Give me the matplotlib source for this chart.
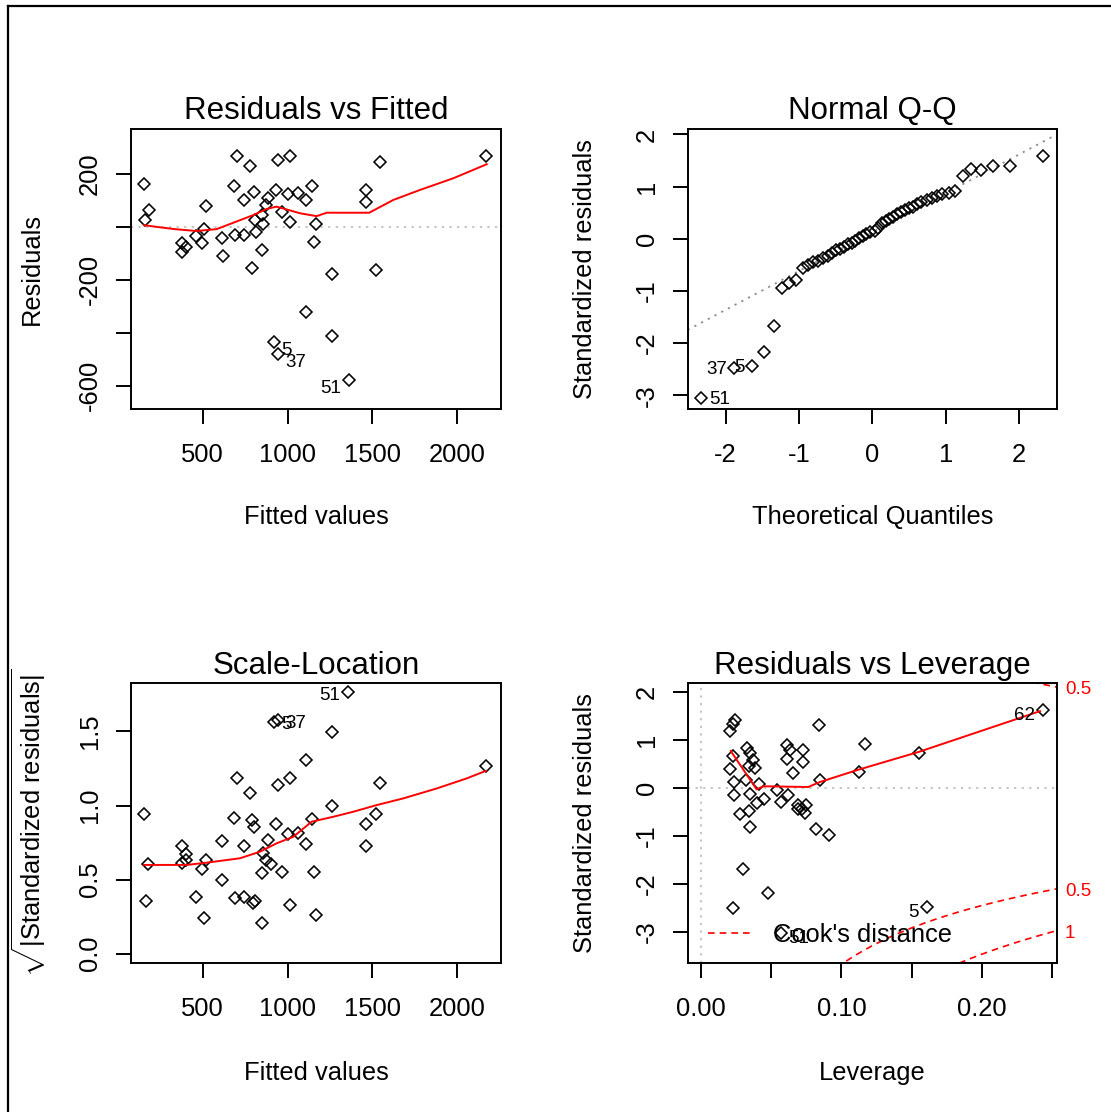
import matplotlib
matplotlib.use('Agg')
import matplotlib.pyplot as plt
import numpy as np
from matplotlib.lines import Line2D

plt.rcParams['font.family'] = ['Liberation Sans', 'DejaVu Sans']
plt.rcParams['mathtext.fontset'] = 'custom'
plt.rcParams['mathtext.rm'] = 'Liberation Sans'
plt.rcParams['mathtext.it'] = 'Liberation Sans:italic'
plt.rcParams['mathtext.bf'] = 'Liberation Sans:bold'
plt.rcParams['axes.unicode_minus'] = False

# ---------------- data ----------------
# Panel 1: Residuals vs Fitted
p1_fitted = [154, 182, 162, 704, 779, 943, 1016, 1546, 2168, 684, 800, 741, 932, 1004,
             1063, 1145, 1110, 886, 873, 1463, 1461, 519, 967, 806, 849, 1012, 1169, 508,
             462, 498, 378, 402, 376, 615, 692, 745, 814, 853, 1157, 618, 851, 792, 1261,
             1521, 1108, 1260, 918, 943, 1360]
p1_resid = [161, 63, 25, 267, 229, 252, 267, 245, 267, 154, 131, 101, 139, 124,
            126, 154, 101, 108, 82, 139, 93, 78, 56, 25, 43, 18, 9, -8,
            -33, -60, -63, -76, -97, -44, -30, -30, -20, 9, -59, -111, -88, -155, -179,
            -164, -322, -413, -436, -482, -579]
p1_smooth_x = [154, 248, 336, 464, 582, 680, 798, 876, 935, 985, 1073, 1171, 1230, 1481,
               1622, 1780, 1976, 2173]
p1_smooth_y = [6, -2, -9, -16, -9, 15, 44, 67, 76, 67, 51, 40, 53, 53, 101, 139, 183, 236]
p1_ids = {'5': (918, -436), '37': (943, -482), '51': (1360, -579)}

# Panel 2: Normal Q-Q
qq_theoretical = [-2.33, -1.88, -1.64, -1.48, -1.34, -1.23, -1.13, -1.04, -0.95, -0.88,
                  -0.81, -0.74, -0.67, -0.61, -0.55, -0.50, -0.44, -0.39, -0.33, -0.28,
                  -0.23, -0.18, -0.13, -0.08, -0.03, 0.03, 0.08, 0.13, 0.18, 0.23,
                  0.28, 0.33, 0.39, 0.44, 0.50, 0.55, 0.61, 0.67, 0.74, 0.81,
                  0.88, 0.95, 1.04, 1.13, 1.23, 1.34, 1.48, 1.64, 1.88, 2.33]
qq_sample = [-3.06, -2.48, -2.45, -2.18, -1.67, -0.95, -0.85, -0.79, -0.57, -0.50,
             -0.45, -0.42, -0.36, -0.33, -0.27, -0.22, -0.19, -0.15, -0.11, -0.08,
             -0.04, 0.02, 0.06, 0.09, 0.12, 0.15, 0.21, 0.30, 0.34, 0.37,
             0.42, 0.47, 0.51, 0.55, 0.59, 0.61, 0.66, 0.71, 0.74, 0.78,
             0.82, 0.85, 0.88, 0.91, 1.20, 1.33, 1.32, 1.40, 1.40, 1.59]
qq_line_intercept = 0.127
qq_line_slope = 0.745
qq_ids = {'51': (-2.33, -3.06), '37': (-1.88, -2.48), '5': (-1.64, -2.45)}

# Panel 3: Scale-Location
p3_fitted = [1357, 918, 943, 1261, 1110, 2168, 704, 1014, 943, 779, 1546, 154, 1261, 684,
             792, 802, 932, 1145, 1522, 1462, 1004, 1063, 886, 615, 741, 1110, 1462, 378,
             402, 378, 403, 519, 496, 180, 853, 873, 900, 851, 967, 1157, 615, 462, 692,
             745, 808, 798, 166, 1014, 509, 1169, 851]
p3_sqrt_std = [1.764, 1.565, 1.575, 1.494, 1.305, 1.264, 1.183, 1.183, 1.138, 1.086, 1.154,
               0.941, 0.997, 0.918, 0.902, 0.857, 0.873, 0.907, 0.941, 0.873, 0.808, 0.817,
               0.765, 0.763, 0.729, 0.738, 0.727, 0.729, 0.671, 0.614, 0.632, 0.632, 0.574,
               0.603, 0.682, 0.632, 0.603, 0.547, 0.549, 0.549, 0.495, 0.385, 0.374, 0.385,
               0.358, 0.344, 0.358, 0.329, 0.239, 0.261, 0.209]
p3_smooth_x = [154, 405, 522, 720, 837, 936, 1034, 1142, 1269, 1387, 1525, 1681, 1878, 2055, 2168]
p3_smooth_y = [0.599, 0.599, 0.614, 0.644, 0.688, 0.745, 0.789, 0.891, 0.924, 0.958, 1.003,
               1.048, 1.115, 1.183, 1.234]
p3_ids = {'5': (918, 1.565), '37': (943, 1.575), '51': (1357, 1.764)}

# Panel 4: Residuals vs Leverage
p4_leverage = [0.2435, 0.0240, 0.0224, 0.0205, 0.0840, 0.1165, 0.0324, 0.0347, 0.0367, 0.0342,
               0.0383, 0.0613, 0.0633, 0.0723, 0.0613, 0.0723, 0.0652, 0.0224, 0.1550, 0.0203,
               0.1123, 0.0849, 0.0233, 0.0414, 0.0319, 0.0233, 0.0347, 0.0395, 0.0449, 0.0542,
               0.0566, 0.0620, 0.0692, 0.0716, 0.0747, 0.0740, 0.0688, 0.0276, 0.0340, 0.0347,
               0.0816, 0.0913, 0.0295, 0.0478, 0.0224, 0.1608, 0.0566]
p4_std_resid = [1.62, 1.41, 1.34, 1.19, 1.32, 0.91, 0.84, 0.72, 0.58, 0.45,
                0.42, 0.89, 0.785, 0.785, 0.61, 0.54, 0.31, 0.66, 0.73, 0.40,
                0.33, 0.16, 0.125, 0.077, 0.16, -0.14, -0.13, -0.31, -0.22, -0.05,
                -0.30, -0.14, -0.36, -0.43, -0.36, -0.53, -0.43, -0.55, -0.49, -0.81,
                -0.85, -0.97, -1.69, -2.18, -2.51, -2.48, -3.03]
p4_smooth_x = [0.021, 0.0395, 0.0442, 0.0763, 0.0847, 0.112, 0.155, 0.2416]
p4_smooth_y = [0.77, -0.03, 0.035, 0.02, 0.125, 0.38, 0.75, 1.60]
p4_ids = {'62': (0.2435, 1.62), '5': (0.1608, -2.48), '51': (0.0566, -3.03)}
cook_levels = [0.5, 1]
n_params = 3

# ---------------- styling ----------------
W, H = 1111, 1112
LAB = 18.4
TITLE = 22.5
IDF = 13.5
GRAY = '#BEBEBE'
DOT = (0, (1.2, 3.0))

fig = plt.figure(figsize=(W / 100, H / 100), dpi=100)
fig.patch.set_facecolor('white')

def add_ax(l, r, t, b):
    ax = fig.add_axes([l / W, 1 - b / H, (r - l) / W, (b - t) / H])
    for s in ax.spines.values():
        s.set_linewidth(1.4)
    ax.tick_params(axis='both', length=10.5, width=1.4, labelsize=LAB)
    ax.tick_params(axis='x', pad=14)
    ax.tick_params(axis='y', pad=10.5)
    return ax

def points(ax, x, y):
    ax.plot(x, y, 'D', mfc='none', mec='black', ms=6.4, mew=1.15, ls='none')

def label_ids(ax, ids, sides, dy=-3):
    for k, (x, y) in ids.items():
        side = sides[k]
        ax.annotate(k, (x, y), xytext=(5.5 * side, dy), textcoords='offset points',
                    ha='left' if side > 0 else 'right', va='center', fontsize=IDF,
                    annotation_clip=False)

def yrot(ax, ticks, labels):
    ax.set_yticks(ticks)
    ax.set_yticklabels(labels, rotation=90, va='center')

# Panel 1
ax1 = add_ax(131, 501, 129, 408.5)
ax1.set_xlim(78, 2257)
ax1.set_ylim(-686, 369)
ax1.axhline(0, color=GRAY, ls=DOT, lw=1.3)
points(ax1, p1_fitted, p1_resid)
ax1.plot(p1_smooth_x, p1_smooth_y, color='red', lw=1.4)
label_ids(ax1, p1_ids, {'5': 1, '37': 1, '51': -1}, dy=-6)
ax1.set_xticks([500, 1000, 1500, 2000])
yrot(ax1, [200, 0, -200, -400, -600], ['200', '', '-200', '', '-600'])
ax1.set_title('Residuals vs Fitted', fontsize=TITLE, pad=7)
ax1.set_xlabel('Fitted values', fontsize=LAB, va='center')
ax1.xaxis.set_label_coords(0.5, -(517 - 408.5) / 279.5)
ax1.set_ylabel('Residuals', fontsize=LAB, va='center')
ax1.yaxis.set_label_coords(-(131 - 31.7) / 370, 0.5)

# Panel 2
ax2 = add_ax(687.7, 1057, 129, 408.7)
ax2.set_xlim(-2.518, 2.518)
ax2.set_ylim(-3.26, 2.105)
ax2.axline((0, qq_line_intercept), slope=qq_line_slope, color='#8C8C8C', ls=DOT, lw=1.3)
points(ax2, qq_theoretical, qq_sample)
label_ids(ax2, qq_ids, {'51': 1, '37': -1, '5': -1}, dy=-1)
ax2.set_xticks([-2, -1, 0, 1, 2])
yrot(ax2, [-3, -2, -1, 0, 1, 2], ['-3', '-2', '-1', '0', '1', '2'])
ax2.set_title('Normal Q-Q', fontsize=TITLE, pad=7)
ax2.set_xlabel('Theoretical Quantiles', fontsize=LAB, va='center')
ax2.xaxis.set_label_coords(0.5, -(517 - 408.7) / 279.7)
ax2.set_ylabel('Standardized residuals', fontsize=LAB, va='center')
ax2.yaxis.set_label_coords(-(687.7 - 585) / 369.3, 0.5)

# Panel 3
ax3 = add_ax(131, 501, 683.3, 963.3)
ax3.set_xlim(78, 2257)
ax3.set_ylim(-0.065, 1.825)
points(ax3, p3_fitted, p3_sqrt_std)
ax3.plot(p3_smooth_x, p3_smooth_y, color='red', lw=1.4)
label_ids(ax3, p3_ids, {'5': 1, '37': 1, '51': -1}, dy=-2)
ax3.set_xticks([500, 1000, 1500, 2000])
yrot(ax3, [0.0, 0.5, 1.0, 1.5], ['0.0', '0.5', '1.0', '1.5'])
ax3.set_title('Scale-Location', fontsize=TITLE, pad=7)
ax3.set_xlabel('Fitted values', fontsize=LAB, va='center')
ax3.xaxis.set_label_coords(0.5, -(1073 - 963.3) / 280)
ax3.set_ylabel(r'$\sqrt{|\mathrm{Standardized\ residuals}|}$', fontsize=LAB, va='center')
ax3.yaxis.set_label_coords(-(131 - 28.3) / 370, 0.5)

# Panel 4
ax4 = add_ax(687.7, 1056.7, 683.3, 963)
xmin4, xmax4 = -0.0097, 0.2535
ax4.set_xlim(xmin4, xmax4)
ax4.set_ylim(-3.646, 2.18)
ax4.axhline(0, color=GRAY, ls=DOT, lw=1.3)
ax4.axvline(0, color=GRAY, ls=DOT, lw=1.3)
points(ax4, p4_leverage, p4_std_resid)
ax4.plot(p4_smooth_x, p4_smooth_y, color='red', lw=1.4)
hh = np.linspace(0.002, xmax4, 300)
for lev in cook_levels:
    cy = np.sqrt(lev * n_params * (1 - hh) / hh)
    ax4.plot(hh, cy, color='red', ls=(0, (4, 3)), lw=1.2)
    ax4.plot(hh, -cy, color='red', ls=(0, (4, 3)), lw=1.2)
    yend = np.sqrt(lev * n_params * (1 - xmax4) / xmax4)
    for sgn in (1, -1):
        if -3.646 < sgn * yend < 2.18 + 0.1:
            ax4.annotate(f'{lev:g}', (xmax4, sgn * yend), xytext=(6, -2), textcoords='offset points',
                         ha='left', va='center', fontsize=IDF, color='red', annotation_clip=False)
label_ids(ax4, p4_ids, {'62': -1, '5': -1, '51': 1}, dy=-4)
ax4.set_xticks([0.0, 0.05, 0.10, 0.15, 0.20, 0.25])
ax4.set_xticklabels(['0.00', '', '0.10', '', '0.20', ''])
yrot(ax4, [-3, -2, -1, 0, 1, 2], ['-3', '-2', '-1', '0', '1', '2'])
ax4.set_title('Residuals vs Leverage', fontsize=TITLE, pad=7)
ax4.set_xlabel('Leverage', fontsize=LAB, va='center')
ax4.xaxis.set_label_coords(0.5, -(1073 - 963) / 279.7)
ax4.set_ylabel('Standardized residuals', fontsize=LAB, va='center')
ax4.yaxis.set_label_coords(-(687.7 - 585) / 369, 0.5)
leg_h = Line2D([], [], color='red', ls=(0, (4, 3)), lw=1.2)
ax4.legend([leg_h], ["Cook's distance"], loc='lower left', frameon=False, fontsize=LAB,
           handlelength=1.65, handletextpad=0.9, borderaxespad=0, borderpad=0,
           bbox_to_anchor=(20.6 / 369, 16 / 279.7))

# outer frame (top and left)
fig.add_artist(Line2D([8 / W, 8 / W], [0, 1 - 6 / H], color='black', lw=1.6,
                      transform=fig.transFigure))
fig.add_artist(Line2D([8 / W, 1], [1 - 6 / H, 1 - 6 / H], color='black', lw=1.6,
                      transform=fig.transFigure))

fig.savefig('out.png', dpi=100, facecolor='white')
